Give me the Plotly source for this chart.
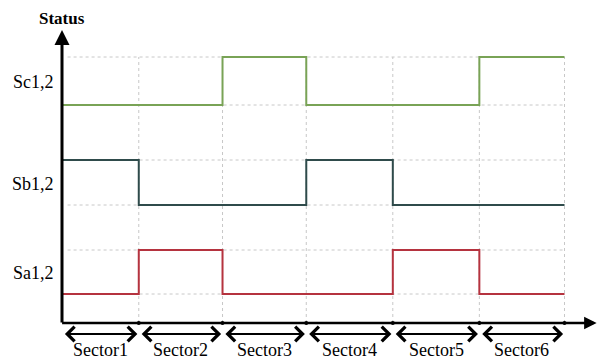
import plotly.graph_objects as go

# ---- data ----
sectors = ["Sector1", "Sector2", "Sector3", "Sector4", "Sector5", "Sector6"]
sector_edges = [0, 55, 115, 175, 237, 299, 360]   # angle (deg)
signal_names = ["Sa1,2", "Sb1,2", "Sc1,2"]
sa_states = [0, 1, 0, 0, 1, 0]
sb_states = [1, 0, 0, 1, 0, 0]
sc_states = [0, 0, 1, 0, 0, 1]
low_levels = [29, 118, 218]      # baseline of each trace (status axis units)
high_levels = [73, 163, 266]     # high level of each trace
label_levels = [50, 139, 241]    # where the row labels sit
colors = ["#b5333f", "#2f4b4b", "#79a356"]

x_max = 384
y_min, y_max = -39, 293

fig = go.Figure()

# dotted grid
grid_x0, grid_x1 = sector_edges[0] + 4, sector_edges[-1]
for lv in low_levels + high_levels:
    fig.add_shape(type="line", x0=grid_x0, x1=grid_x1, y0=lv, y1=lv,
                  line=dict(color="#c8c8c8", width=1, dash="dot"), layer="below")
for e in sector_edges[1:]:
    fig.add_shape(type="line", x0=e, x1=e, y0=0, y1=max(high_levels),
                  line=dict(color="#c8c8c8", width=1, dash="dot"), layer="below")

# signals
for states, lo, hi, col in zip([sa_states, sb_states, sc_states], low_levels, high_levels, colors):
    ys = [hi if s else lo for s in states]
    ys = ys + [ys[-1]]
    fig.add_trace(go.Scatter(x=sector_edges, y=ys, mode="lines",
                             line=dict(color=col, width=2, shape="hv"),
                             showlegend=False, hoverinfo="skip"))

# axes lines with arrows
fig.add_annotation(x=0, y=y_max, ax=0, ay=-1, xref="x", yref="y", axref="x", ayref="y",
                   showarrow=True, arrowhead=2, arrowsize=1, arrowwidth=3, arrowcolor="black", text="")
fig.add_annotation(x=x_max - 1, y=0, ax=-1, ay=0, xref="x", yref="y", axref="x", ayref="y",
                   showarrow=True, arrowhead=2, arrowsize=1, arrowwidth=2.5, arrowcolor="black", text="")

# boundary dots on x axis
fig.add_trace(go.Scatter(x=sector_edges[1:], y=[0] * 6, mode="markers",
                         marker=dict(color="black", size=4), showlegend=False, hoverinfo="skip"))

# sector double arrows and labels
for i, name in enumerate(sectors):
    a, b = sector_edges[i], sector_edges[i + 1]
    fig.add_annotation(x=b - 1, y=-11, ax=a + 1, ay=-11, xref="x", yref="y", axref="x", ayref="y",
                       showarrow=True, arrowhead=4, arrowside="end+start", arrowsize=1.3,
                       arrowwidth=2.2, arrowcolor="black", text="")
    fig.add_annotation(x=(a + b) / 2, y=y_min, xref="x", yref="y", text=name, showarrow=False,
                       yanchor="bottom", yshift=0,
                       font=dict(family="Liberation Serif", size=18, color="black"))

# row labels
for name, lv in zip(signal_names, label_levels):
    fig.add_annotation(x=0, y=lv, xref="paper", yref="y", text=name, showarrow=False,
                       xanchor="right", xshift=-6,
                       font=dict(family="Liberation Serif", size=18, color="black"))

fig.add_annotation(x=0, y=y_max, xref="x", yref="y", text="<b>Status</b>", showarrow=False,
                   yanchor="bottom", yshift=0,
                   font=dict(family="Liberation Serif", size=17, color="black"))

fig.update_xaxes(range=[0, x_max], visible=False, showgrid=False, zeroline=False)
fig.update_yaxes(range=[y_min, y_max], visible=False, showgrid=False, zeroline=False)

fig.update_layout(width=598, height=362, margin=dict(l=62, r=0, t=30, b=0),
                  plot_bgcolor="white", paper_bgcolor="white")

fig.write_html("out.html")
